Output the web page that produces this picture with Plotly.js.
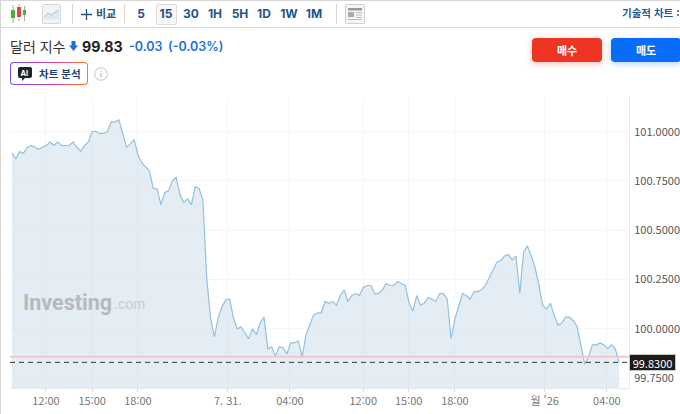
<!DOCTYPE html>
<html lang="ko"><head><meta charset="utf-8">
<script src="https://cdn.plot.ly/plotly-3.0.1.min.js"></script>
<style>
html,body{margin:0;padding:0;background:#fff;width:680px;height:414px;overflow:hidden}
body{font-family:Inter,"Noto Sans CJK KR",sans-serif;position:relative}
#chart{position:absolute;left:0;top:0;width:680px;height:414px}
.a{position:absolute;white-space:nowrap;line-height:1}
.hl{position:absolute;background:#d6d6d6}
.tf{position:absolute;top:7px;width:24px;text-align:center;font-size:12px;font-weight:700;color:#24548c;line-height:14px}
.btn{position:absolute;top:38px;height:24px;border-radius:4px;color:#fff;font:700 11px/24px "Noto Sans CJK KR",sans-serif;text-align:center}
</style></head><body>
<div id="chart"></div>
<div class="hl" style="left:0;top:0;width:680px;height:1px"></div>
<div class="hl" style="left:0;top:27px;width:680px;height:1px"></div>
<div class="hl" style="left:0;top:0;width:1px;height:414px"></div>
<div class="hl" style="left:72px;top:4px;width:1px;height:20px"></div>
<div class="hl" style="left:124px;top:4px;width:1px;height:20px"></div>
<div class="hl" style="left:336px;top:4px;width:1px;height:20px"></div>
<svg class="a" style="left:9px;top:4px" width="20" height="20" viewBox="0 0 20 20">
<path d="M4 1v18M10 0v17M15.500 2v15" stroke="#aaa" stroke-width="1"/>
<rect x="2" y="6" width="4" height="8" fill="#54a845"/><rect x="8" y="3" width="4" height="10" fill="#e04a3a"/><rect x="14" y="6" width="3" height="5" fill="#54a845"/></svg>
<svg class="a" style="left:42px;top:4px" width="19" height="20" viewBox="0 0 19 20">
<rect x=".5" y=".5" width="18" height="19" rx="1.500" fill="#f3f3f3" stroke="#d8d8d8"/>
<path d="M2 13l4-4 3 2 3-2 5-3v9H2z" fill="#dde8f2"/><path d="M2 13l4-4 3 2 3-2 5-3" fill="none" stroke="#a9c4de"/></svg>
<svg class="a" style="left:81px;top:9px" width="11" height="11"><path d="M5.500 0v11M0 5.500h11" stroke="#24548c" stroke-width="1.300"/></svg>
<div class="a" style="left:96px;top:7px;font:700 11px/13px 'Noto Sans CJK KR';color:#24548c">비교</div>
<div class="a" style="left:156px;top:4px;width:19px;height:19px;background:#f7f7f7;border:1px solid #ddd;border-radius:2px"></div>
<div class="tf" style="left:129px">5</div><div class="tf" style="left:154px">15</div><div class="tf" style="left:179px">30</div>
<div class="tf" style="left:203px">1H</div><div class="tf" style="left:228px">5H</div><div class="tf" style="left:252px">1D</div>
<div class="tf" style="left:277px">1W</div><div class="tf" style="left:302px">1M</div>
<svg class="a" style="left:345px;top:4px" width="20" height="20" viewBox="0 0 20 20">
<rect x=".5" y=".5" width="19" height="19" rx="1" fill="#f5f5f5" stroke="#d0d0d0"/>
<rect x="3" y="4" width="14" height="2.500" fill="#999"/><rect x="3" y="8" width="6" height="5" fill="#aaa"/>
<path d="M11 8.500h6M11 11h6M11 13.500h6M3 15.500h14" stroke="#bbb"/></svg>
<div class="a" style="left:622px;top:6px;font:700 10.500px/13px 'Noto Sans CJK KR';color:#1f5a96">기술적 차트</div>
<svg class="a" style="left:677px;top:10px" width="3" height="8"><path d="M0 1h2M0 5h2" stroke="#1f5a96" stroke-width="1.300"/></svg>

<div class="a" style="left:10px;top:37px;font:400 14px/18px 'Noto Sans CJK KR';color:#333">달러 지수</div>
<svg class="a" style="left:69px;top:41px" width="9" height="10"><path d="M2.500 0h4v4.500H9L4.500 10 0 4.500h2.500z" fill="#1a6fd8"/></svg>
<div class="a" style="left:82px;top:38px;font:700 14.200px/18px Inter;color:#222">99.83</div>
<div class="a" style="left:129px;top:38px;font:600 12.500px/17px Inter;color:#1a6fd8">-0.03</div>
<div class="a" style="left:168px;top:38px;font:600 12.500px/17px Inter;color:#1a6fd8">(-0.03%)</div>

<div class="a" style="left:10px;top:62px;width:78px;height:23px;box-sizing:border-box;border-radius:4px;border:1px solid transparent;background:linear-gradient(#fff,#fff) padding-box,linear-gradient(90deg,#7a4dff,#e0409a 60%,#ff7a10) border-box"></div>
<svg class="a" style="left:18px;top:67px" width="14" height="14" viewBox="0 0 14 14"><path d="M2 0h10a2 2 0 012 2v7a2 2 0 01-2 2H7l-3 3v-3H2a2 2 0 01-2-2V2a2 2 0 012-2z" fill="#222"/></svg>
<div class="a" style="left:20.500px;top:69.500px;font:700 7.500px/8px Inter;color:#fff">AI</div>
<div class="a" style="left:39px;top:67px;font:700 10.500px/13px 'Noto Sans CJK KR';color:#1d3f6e">차트 분석</div>
<svg class="a" style="left:94px;top:67px" width="14" height="14"><circle cx="7" cy="7" r="6.300" fill="none" stroke="#ccc" stroke-width="1.100"/><path d="M7 6v4.500M7 3.500v1.300" stroke="#bbb" stroke-width="1.200"/></svg>
<div class="btn" style="left:532px;width:70px;background:#ee3524;box-shadow:0 2px 6px rgba(238,53,36,.3)">매수</div>
<div class="btn" style="left:611px;width:70px;background:#0a6dfa;box-shadow:0 2px 6px rgba(10,109,250,.3)">매도</div>

<script>
const values = [
100.891,100.862,100.899,100.891,100.920,100.930,100.921,100.911,100.921,100.930,
100.948,100.931,100.948,100.930,100.930,100.930,100.948,100.921,100.901,100.930,
100.948,101.001,101.001,100.991,100.991,101.001,101.050,101.050,101.060,100.991,
100.921,100.938,100.960,100.882,100.843,100.822,100.801,100.712,100.710,100.630,
100.691,100.701,100.751,100.769,100.680,100.641,100.659,100.630,100.720,100.712,
100.654,100.259,100.056,99.959,100.056,100.112,100.147,100.152,100.056,100.000,
100.010,99.980,99.949,100.000,99.970,100.030,100.061,99.899,99.909,99.863,
99.909,99.904,99.873,99.929,99.929,99.939,99.858,99.970,100.020,100.071,
100.081,100.081,100.139,100.130,100.139,100.120,100.169,100.198,100.139,100.169,
100.179,100.169,100.210,100.220,100.220,100.179,100.179,100.198,100.230,100.220,
100.220,100.240,100.230,100.220,100.130,100.090,100.169,100.120,100.130,100.159,
100.150,100.139,100.179,100.179,100.150,99.951,100.051,100.113,100.179,100.169,
100.150,100.189,100.189,100.199,100.220,100.260,100.299,100.338,100.347,100.369,
100.377,100.350,100.369,100.181,100.389,100.421,100.370,100.311,100.223,100.120,
100.100,100.130,100.071,100.020,100.029,100.059,100.059,100.042,100.012,99.919,
99.821,99.860,99.919,99.919,99.929,99.919,99.900,99.919,99.900,99.830];
const slots = values.map((_, i) => i);
const xTickSlots = [8.9, 21, 33, 56.5, 72.8, 92, 103.9, 116, 139.5, 155.8];
const xTickLabels = ['12:00','15:00','18:00','7. 31.','04:00','12:00','15:00','18:00',"월 '26",'04:00'];
const yTickValues = [99.75, 100, 100.25, 100.5, 100.75, 101];
const yTickLabels = ['99.7500','100.0000','100.2500','100.5000','100.7500','101.0000'];
const lastPrice = 99.83;
const prevClose = 99.858;
const lastLabel = '99.8300';
const tickFont = '"Noto Sans CJK KR","Noto Sans",sans-serif';

Plotly.newPlot('chart', [{
  x: slots, y: values, type: 'scatter', mode: 'lines', fill: 'tozeroy',
  line: {color: '#93c0e2', width: 1.2, shape: 'linear'},
  fillcolor: 'rgba(205,222,235,0.55)', hoverinfo: 'skip'
}], {
  width: 680, height: 414, showlegend: false,
  paper_bgcolor: 'rgba(0,0,0,0)', plot_bgcolor: '#fff',
  margin: {l: 10, r: 51, t: 97, b: 26, pad: 0},
  xaxis: {
    range: [-0.52, 161.6], tickmode: 'array', tickvals: xTickSlots, ticktext: xTickLabels,
    showgrid: true, gridcolor: '#f3f4f6', gridwidth: 1, zeroline: false,
    showline: true, linecolor: '#e8e8e8', ticks: 'outside', ticklen: 3, tickcolor: '#dcdcdc',
    tickfont: {family: tickFont, size: 11, color: '#777'}
  },
  yaxis: {
    side: 'right', range: [99.70, 101.176], tickmode: 'array', tickvals: yTickValues, ticktext: yTickLabels,
    showgrid: true, gridcolor: '#f6f6f7', gridwidth: 1, zeroline: false,
    showline: true, linecolor: '#e8e8e8', ticks: 'outside', ticklen: 2, tickcolor: 'rgba(0,0,0,0)',
    tickfont: {family: tickFont, size: 11, color: '#555'}
  },
  shapes: [
    {type: 'line', xref: 'paper', x0: 0, x1: 1, yref: 'y', y0: prevClose, y1: prevClose,
     line: {color: '#f3c6c8', width: 2}},
    {type: 'line', xref: 'paper', x0: 0, x1: 1, yref: 'y', y0: lastPrice, y1: lastPrice,
     line: {color: '#333', width: 1, dash: '5px,4px'}}
  ],
  annotations: [
    {xref: 'paper', yref: 'y', x: 1.0, y: lastPrice, xanchor: 'left', yanchor: 'middle', showarrow: false,
     text: lastLabel, bgcolor: '#1c1c1c', bordercolor: '#c8c8c8', borderwidth: 1, borderpad: 1, width: 43, height: 13,
     font: {family: tickFont, size: 11, color: '#fff'}},
    {xref: 'paper', yref: 'paper', x: 0.0185, y: 0.2955, xanchor: 'left', yanchor: 'middle', showarrow: false,
     text: '<b>Investing</b>', font: {family: 'Roboto', size: 21.5, color: '#b4babf'}},
    {xref: 'paper', yref: 'paper', x: 0.1650, y: 0.2900, xanchor: 'left', yanchor: 'middle', showarrow: false,
     text: '.com', font: {family: 'Liberation Sans', size: 14.5, color: '#c8ccd0'}}
  ]
}, {staticPlot: true, displayModeBar: false});
</script>
</body></html>
